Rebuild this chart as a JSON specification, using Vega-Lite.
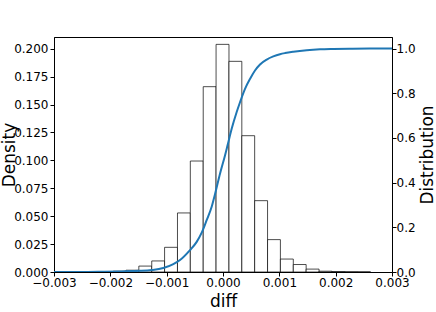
{
  "$schema": "https://vega.github.io/schema/vega-lite/v6.json",
  "autosize": {"type": "none"},
  "padding": {"left": 54, "top": 37, "right": 44, "bottom": 40},
  "width": 338,
  "height": 235,
  "background": "white",
  "config": {
    "view": {"stroke": "black", "strokeWidth": 1},
    "font": "DejaVu Sans",
    "axis": {
      "grid": false,
      "domainColor": "black",
      "tickColor": "black",
      "labelColor": "black",
      "titleColor": "black",
      "labelFont": "DejaVu Sans",
      "titleFont": "DejaVu Sans",
      "labelFontSize": 12,
      "titleFontSize": 17,
      "titleFontWeight": "normal",
      "labelFlush": false,
      "labelOverlap": false,
      "labelBound": false
    }
  },
  "datasets": {
    "bins": [
      {"lo": -0.002407, "hi": -0.002179, "density": 0.0001},
      {"lo": -0.002179, "hi": -0.001950, "density": 0.0003},
      {"lo": -0.001950, "hi": -0.001722, "density": 0.0007},
      {"lo": -0.001722, "hi": -0.001494, "density": 0.0016},
      {"lo": -0.001494, "hi": -0.001265, "density": 0.0053},
      {"lo": -0.001265, "hi": -0.001037, "density": 0.0099},
      {"lo": -0.001037, "hi": -0.000808, "density": 0.0221},
      {"lo": -0.000808, "hi": -0.000580, "density": 0.0529},
      {"lo": -0.000580, "hi": -0.000351, "density": 0.0994},
      {"lo": -0.000351, "hi": -0.000123, "density": 0.1660},
      {"lo": -0.000123, "hi": 0.000106, "density": 0.2039},
      {"lo": 0.000106, "hi": 0.000334, "density": 0.1887},
      {"lo": 0.000334, "hi": 0.000562, "density": 0.1221},
      {"lo": 0.000562, "hi": 0.000791, "density": 0.0639},
      {"lo": 0.000791, "hi": 0.001019, "density": 0.0290},
      {"lo": 0.001019, "hi": 0.001248, "density": 0.0116},
      {"lo": 0.001248, "hi": 0.001476, "density": 0.0067},
      {"lo": 0.001476, "hi": 0.001705, "density": 0.0026},
      {"lo": 0.001705, "hi": 0.001933, "density": 0.0007},
      {"lo": 0.001933, "hi": 0.002162, "density": 0.0004},
      {"lo": 0.002162, "hi": 0.002390, "density": 0.0002},
      {"lo": 0.002390, "hi": 0.002619, "density": 0.0001}
    ],
    "cdf": [
      {"x": -0.003, "cdf": 0.0},
      {"x": -0.0027, "cdf": 0.0001},
      {"x": -0.0024, "cdf": 0.0004},
      {"x": -0.0021, "cdf": 0.0010},
      {"x": -0.0018, "cdf": 0.0025},
      {"x": -0.0016, "cdf": 0.0040},
      {"x": -0.001473, "cdf": 0.0052},
      {"x": -0.001266, "cdf": 0.0089},
      {"x": -0.00106, "cdf": 0.0179},
      {"x": -0.000882, "cdf": 0.0357},
      {"x": -0.000763, "cdf": 0.0536},
      {"x": -0.000586, "cdf": 0.098},
      {"x": -0.000467, "cdf": 0.135},
      {"x": -0.000378, "cdf": 0.176},
      {"x": -0.00029, "cdf": 0.232},
      {"x": -0.000201, "cdf": 0.292},
      {"x": -0.000142, "cdf": 0.348},
      {"x": -0.0000533, "cdf": 0.44},
      {"x": 0.0000355, "cdf": 0.522},
      {"x": 0.0000763, "cdf": 0.5625},
      {"x": 0.000154, "cdf": 0.641},
      {"x": 0.000243, "cdf": 0.716},
      {"x": 0.000302, "cdf": 0.760},
      {"x": 0.000391, "cdf": 0.820},
      {"x": 0.000479, "cdf": 0.864},
      {"x": 0.000568, "cdf": 0.902},
      {"x": 0.000657, "cdf": 0.929},
      {"x": 0.000776, "cdf": 0.951},
      {"x": 0.000893, "cdf": 0.965},
      {"x": 0.001012, "cdf": 0.975},
      {"x": 0.001101, "cdf": 0.980},
      {"x": 0.001248, "cdf": 0.986},
      {"x": 0.001486, "cdf": 0.993},
      {"x": 0.001722, "cdf": 0.997},
      {"x": 0.001958, "cdf": 0.9985},
      {"x": 0.0023, "cdf": 0.9995},
      {"x": 0.0026, "cdf": 1.0},
      {"x": 0.003, "cdf": 1.0}
    ]
  },
  "layer": [
    {
      "data": {"name": "bins"},
      "mark": {"type": "bar", "fill": "white", "stroke": "black", "strokeWidth": 0.7, "clip": true},
      "encoding": {
        "x": {
          "field": "lo", "type": "quantitative",
          "scale": {"domain": [-0.003, 0.003], "nice": false, "zero": false},
          "axis": {
            "values": [-0.003, -0.002, -0.001, 0, 0.001, 0.002, 0.003],
            "format": ".3f", "tickSize": 4, "labelPadding": 1,
            "title": "diff", "titleX": 169, "titleY": 34, "titleBaseline": "alphabetic", "titleAlign": "center"
          }
        },
        "x2": {"field": "hi"},
        "y": {
          "field": "density", "type": "quantitative",
          "scale": {"domain": [0, 0.2105], "nice": false},
          "axis": {
            "orient": "left",
            "values": [0, 0.025, 0.05, 0.075, 0.1, 0.125, 0.15, 0.175, 0.2],
            "format": ".3f", "tickSize": 4, "labelPadding": 2,
            "title": "Density", "titleAngle": 270, "titleX": -39.5, "titleY": 117.5,
            "titleBaseline": "alphabetic", "titleAlign": "center"
          }
        },
        "y2": {"datum": 0}
      }
    },
    {
      "data": {"name": "cdf"},
      "mark": {"type": "line", "color": "#1f77b4", "strokeWidth": 2, "interpolate": "monotone", "clip": true},
      "encoding": {
        "x": {"field": "x", "type": "quantitative"},
        "y": {
          "field": "cdf", "type": "quantitative",
          "scale": {"domain": [0, 1.052], "nice": false},
          "axis": {
            "orient": "right",
            "values": [0, 0.2, 0.4, 0.6, 0.8, 1.0],
            "format": ".1f", "tickSize": 4, "labelPadding": 0,
            "title": "Distribution", "titleAngle": 270, "titleX": 40, "titleY": 117.5,
            "titleBaseline": "alphabetic", "titleAlign": "center"
          }
        }
      }
    }
  ],
  "resolve": {"scale": {"y": "independent"}}
}
